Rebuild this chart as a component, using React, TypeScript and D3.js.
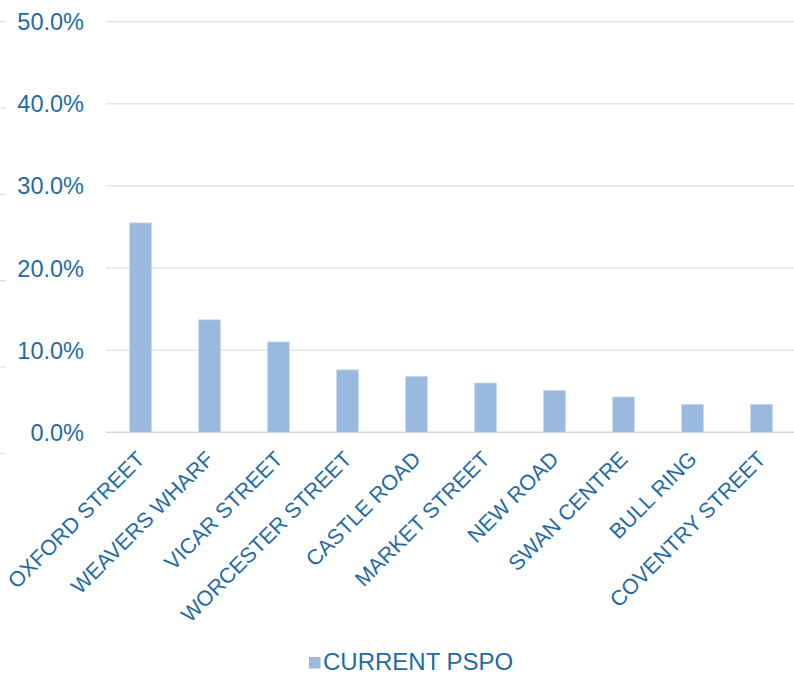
import React from "react";
import * as d3 from "d3";

// Share of responses per location, current PSPO
const categories = [
  "OXFORD STREET",
  "WEAVERS WHARF",
  "VICAR STREET",
  "WORCESTER STREET",
  "CASTLE ROAD",
  "MARKET STREET",
  "NEW ROAD",
  "SWAN CENTRE",
  "BULL RING",
  "COVENTRY STREET",
];
const currentPspo = [0.255, 0.137, 0.11, 0.076, 0.068, 0.06, 0.051, 0.043, 0.034, 0.034];
const yTicks = [0, 0.1, 0.2, 0.3, 0.4, 0.5];
const seriesName = "CURRENT PSPO";

const W = 794;
const H = 674;
const TEXT = "#1F6BA5";
const BAR = "#99B9DF";
const GRID = "#D9D9D9";
const FONT = "'Liberation Sans', Arial, sans-serif";

export default function App() {
  const y = d3.scaleLinear().domain([0, 0.5]).range([432.3, 21.7]);
  const x = d3.scaleBand<string>().domain(categories).range([106, 796]).padding(0);
  const barW = x.bandwidth() * 0.315;
  const fmt = d3.format(".1%");
  // faint ticks along the left edge of the frame
  const edge = d3.scaleLinear().domain([0, 0.5]).range([453.3, 21.7]);

  return (
    <svg
      width={W}
      height={H}
      style={{ position: "absolute", left: 0, top: 0, background: "#fff" }}
      fontFamily={FONT}
    >
      <rect width={W} height={H} fill="#fff" />
      {yTicks.map((t) => (
        <line key={"e" + t} x1={0} x2={6} y1={edge(t)} y2={edge(t)} stroke={GRID} strokeWidth={1} />
      ))}
      {yTicks.map((t) => (
        <g key={t}>
          <line x1={106} x2={W} y1={y(t)} y2={y(t)} stroke={GRID} strokeWidth={t === 0 ? 1.5 : 1} />
          <text x={84} y={y(t)} dy="0.36em" textAnchor="end" fill={TEXT} fontSize={23.5}>
            {fmt(t)}
          </text>
        </g>
      ))}
      {categories.map((c, i) => {
        const cx = (x(c) as number) + x.bandwidth() / 2;
        return (
          <rect
            key={c}
            x={cx - barW / 2}
            y={y(currentPspo[i])}
            width={barW}
            height={y(0) - y(currentPspo[i])}
            fill={BAR}
            stroke="#C6D8EE"
            strokeWidth={0.8}
          />
        );
      })}
      {categories.map((c) => {
        const cx = (x(c) as number) + x.bandwidth() / 2;
        return (
          <text
            key={"l" + c}
            transform={`translate(${cx},455) rotate(-45)`}
            dy="0.36em"
            textAnchor="end"
            fill={TEXT}
            fontSize={21.5}
          >
            {c}
          </text>
        );
      })}
      <rect x={309} y={657} width={11.5} height={11.5} fill={BAR} />
      <text x={323} y={669.5} fill={TEXT} fontSize={24}>
        {seriesName}
      </text>
    </svg>
  );
}
